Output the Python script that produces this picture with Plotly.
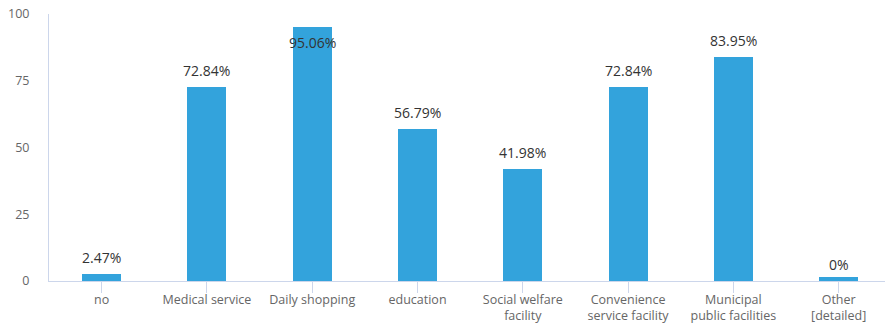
import plotly.graph_objects as go

# Share of respondents naming each facility type
categories = [
    "no",
    "Medical service",
    "Daily shopping",
    "education",
    "Social welfare<br>facility",
    "Convenience<br>service facility",
    "Municipal<br>public facilities",
    "Other<br>[detailed]",
]
values = [2.47, 72.84, 95.06, 56.79, 41.98, 72.84, 83.95, 0]
labels = ["2.47%", "72.84%", "95.06%", "56.79%", "41.98%", "72.84%", "83.95%", "0%"]

BAR_COLOR = "#33a3dc"
AXIS_COLOR = "#ccd6eb"
W, H = 885, 326
MARGIN = dict(l=49, r=0, t=14, b=45)
Y_MAX = 100
px_per_unit = (H - MARGIN["t"] - MARGIN["b"]) / Y_MAX

fig = go.Figure(
    go.Bar(
        x=list(range(len(categories))),
        y=values,
        width=0.37,
        marker=dict(
            color=BAR_COLOR,
            # zero-valued bars still get a thin visible sliver at the baseline
            line=dict(color=BAR_COLOR, width=[8 if v == 0 else 0 for v in values]),
        ),
        hoverinfo="skip",
    )
)

# Value labels above each bar; flipped inside when there's no room above
annotations = []
for i, (v, t) in enumerate(zip(values, labels)):
    room_px = (Y_MAX - v) * px_per_unit
    if room_px > 24:
        annotations.append(dict(x=i, y=v, text=t, xref="x", yref="y",
                                yanchor="bottom", yshift=5, showarrow=False,
                                font=dict(size=14, color="#333333", family="Open Sans")))
    else:
        annotations.append(dict(x=i, y=v, text=t, xref="x", yref="y",
                                yanchor="top", yshift=-4, showarrow=False,
                                font=dict(size=14, color="#333333", family="Open Sans")))

fig.update_layout(
    width=W,
    height=H,
    margin=MARGIN,
    paper_bgcolor="white",
    plot_bgcolor="white",
    showlegend=False,
    annotations=annotations,
    font=dict(family="Open Sans", size=12, color="#666666"),
    bargap=0,
)
fig.update_xaxes(
    tickmode="array",
    tickvals=list(range(len(categories))),
    ticktext=categories,
    range=[-0.5, 7.44],
    showline=True,
    linecolor=AXIS_COLOR,
    linewidth=1,
    ticks="outside",
    tickson="boundaries",
    ticklen=11,
    tickcolor=AXIS_COLOR,
    ticklabelstandoff=-4,
    showgrid=False,
    zeroline=False,
    tickfont=dict(size=12.5, color="#666666", family="Open Sans"),
)
fig.update_yaxes(
    range=[0, Y_MAX],
    tickvals=[0, 25, 50, 75, 100],
    showline=True,
    linecolor=AXIS_COLOR,
    linewidth=1,
    showgrid=False,
    zeroline=False,
    ticks="",
    ticklabelstandoff=16,
    tickfont=dict(size=12.5, color="#666666", family="Open Sans"),
)

fig.write_html("out.html")
